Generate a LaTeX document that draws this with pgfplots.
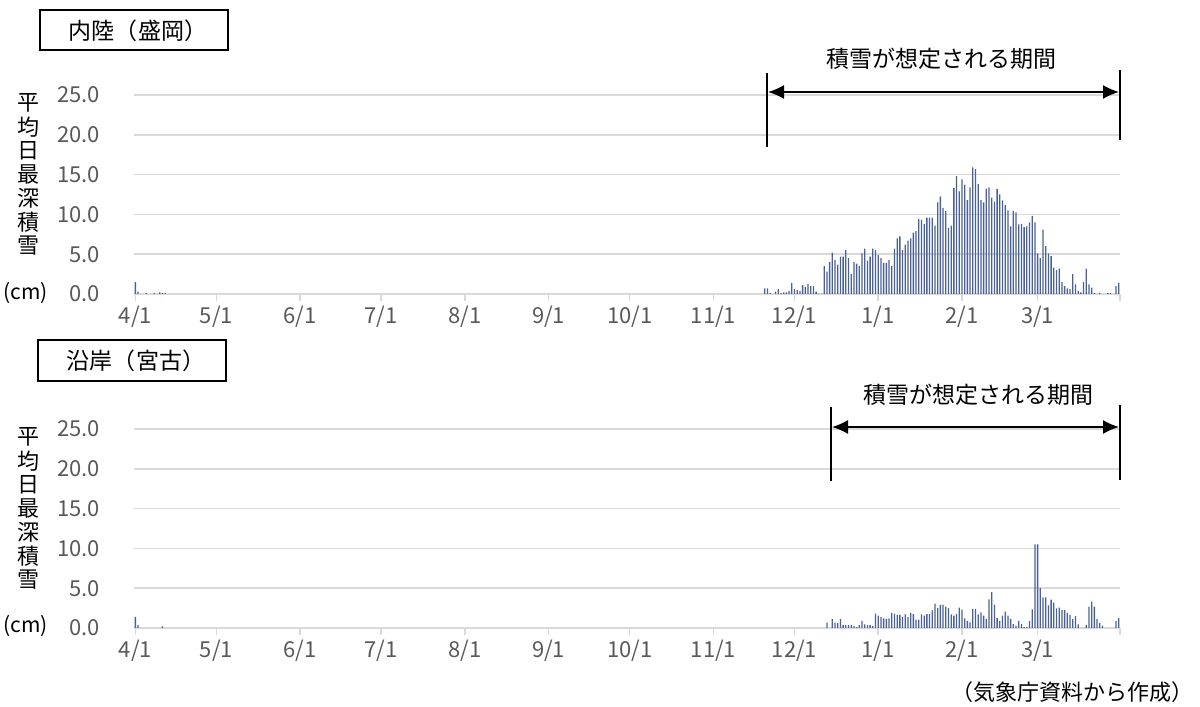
\documentclass[border=0pt]{standalone}
\usepackage{pgfplots}
\pgfplotsset{compat=1.18}
\usepackage{pgfplotstable}
\usepackage{fontspec}
\setmainfont{Noto Sans CJK JP}
\usetikzlibrary{arrows.meta}
\definecolor{barblue}{HTML}{4A6196}
\definecolor{gridgray}{HTML}{D9D9D9}
\definecolor{ticktext}{HTML}{595959}

\pgfplotstableread{
day val
0 1.5
1 0.3
4 0.1
7 0.1
9 0.2
10 0.1
11 0.1
233 0.7
234 0.7
235 0.1
237 0.3
238 0.6
239 0.1
240 0.2
241 0.2
242 0.4
243 1.4
244 0.6
245 0.5
246 0.4
247 1.1
248 0.9
249 1.25
250 1.0
251 1.0
252 0.3
253 0.05
254 0.05
255 3.5
256 2.8
257 4.0
258 5.2
259 4.3
260 3.7
261 4.7
262 4.7
263 5.5
264 4.5
265 2.5
266 4.0
267 3.8
268 3.5
269 5.1
270 5.7
271 4.2
272 4.7
273 5.7
274 5.5
275 4.9
276 4.5
277 3.9
278 3.9
279 4.25
280 3.5
281 5.7
282 7.0
283 7.25
284 5.5
285 6.2
286 6.7
287 7.0
288 7.7
289 7.9
290 9.4
291 9.3
292 8.8
293 9.6
294 9.6
295 9.6
296 8.6
297 11.5
298 12.25
299 10.8
300 10.4
301 8.3
302 8.6
303 13.3
304 14.8
305 12.9
306 14.4
307 13.75
308 11.8
309 13.4
310 15.9
311 15.7
312 13.8
313 11.8
314 11.5
315 13.25
316 13.4
317 12.1
318 11.6
319 13.2
320 12.5
321 11.75
322 11.2
323 10.5
324 8.5
325 10.4
326 10.25
327 8.75
328 8.8
329 8.4
330 8.5
331 9.0
332 9.8
333 9.0
334 5.1
335 4.5
336 8.1
337 6.0
338 5.1
339 4.75
340 3.3
341 3.0
342 3.2
343 1.5
344 1.0
345 0.7
346 0.6
347 2.5
348 1.2
349 0.4
350 0.2
351 1.5
352 3.2
353 1.2
354 0.8
355 0.1
357 0.15
360 0.1
361 0.1
363 1.0
364 1.4
}\topdata

\pgfplotstableread{
day val
0 1.4
1 0.4
10 0.2
256 0.67
258 1.1
259 0.67
260 0.6
261 1.1
262 0.4
263 0.35
264 0.35
265 0.35
266 0.25
267 0.1
268 0.35
269 0.9
270 0.45
271 0.35
272 0.35
273 0.25
274 1.8
275 1.55
276 1.35
277 1.2
278 1.15
279 1.2
280 1.9
281 1.8
282 1.65
283 1.65
284 1.35
285 1.7
286 1.35
287 1.9
288 1.75
289 1.05
290 1.05
291 1.7
292 1.55
293 1.75
294 1.75
295 2.2
296 3.05
297 2.5
298 2.9
299 2.95
300 2.7
301 2.5
302 1.7
303 1.55
304 1.75
305 2.55
306 2.3
307 1.2
308 0.9
309 0.7
310 2.4
311 2.4
312 1.7
313 1.95
314 1.55
315 1.15
316 3.6
317 4.5
318 2.95
319 1.25
320 0.9
321 1.55
322 2.05
323 1.55
324 1.15
325 0.5
326 0.3
327 0.9
328 0.5
329 0.1
330 0.1
331 0.85
332 2.35
333 10.5
334 10.5
335 5.0
336 3.85
337 3.85
338 2.85
339 3.55
340 3.2
341 2.45
342 2.55
343 2.25
344 2.25
345 1.9
346 1.65
347 1.1
348 1.5
349 0.45
352 0.4
353 2.7
354 3.3
355 2.7
356 1.1
357 0.65
358 0.3
363 0.85
364 1.25
}\botdata

\pgfplotsset{
  snowaxis/.style={
    anchor=south west,
    scale only axis, width=986bp, height=199bp,
    xmin=-0.5, xmax=364.5, ymin=0, ymax=25,
    axis lines*=left,
    y axis line style={draw=none},
    x axis line style={draw=gridgray, line width=1.5bp},
    ytick={0,5,10,15,20,25},
    yticklabels={0.0,5.0,10.0,15.0,20.0,25.0},
    ytick style={draw=none},
    xtick={0,30,61,91,122,153,183,214,244,275,306,334},
    xticklabels={4/1,5/1,6/1,7/1,8/1,9/1,10/1,11/1,12/1,1/1,2/1,3/1},
    extra x ticks={364.5},
    extra x tick labels={},
    xtick style={draw=gridgray, line width=1.5bp},
    tick align=outside,
    major tick length=7bp,
    ymajorgrids,
    grid style={draw=gridgray, line width=1.5bp},
    tick label style={font=\fontsize{22bp}{22bp}\selectfont, text=ticktext},
    yticklabel style={inner sep=0pt, anchor=east, xshift=-27bp},
    xticklabel style={inner sep=0pt, anchor=center, yshift=-16bp},
    clip=false,
  },
  snowbar/.style={ybar, bar width=1.3bp, fill=barblue, draw=none},
}

\begin{document}
\begin{tikzpicture}[x=1bp,y=1bp]
\useasboundingbox (0,0) rectangle (1200,707);

% top panel
\begin{axis}[snowaxis, at={(134bp,413bp)}]
\addplot[snowbar] table[x=day,y=val] {\topdata};
\end{axis}

% bottom panel
\begin{axis}[snowaxis, at={(134bp,79bp)}]
\addplot[snowbar] table[x=day,y=val] {\botdata};
\end{axis}

% title boxes
\draw[line width=2bp] (40,656.5) rectangle (228,697);
\node[font=\fontsize{23bp}{23bp}\selectfont] at (138,676.5) {内陸（盛岡）};
\draw[line width=2bp] (38,326) rectangle (226,367);
\node[font=\fontsize{23bp}{23bp}\selectfont] at (136,346.5) {沿岸（宮古）};

% y labels
\foreach \c [count=\i from 0] in {平,均,日,最,深,積,雪} {
  \node[font=\fontsize{22bp}{22bp}\selectfont] at (28,{707-103-23.8*\i}) {\c};
  \node[font=\fontsize{22bp}{22bp}\selectfont] at (28,{707-437-23.8*\i}) {\c};
}
\node[font=\fontsize{21bp}{21bp}\selectfont, anchor=west, inner sep=0pt] at (3,{707-293}) {(cm)};
\node[font=\fontsize{21bp}{21bp}\selectfont, anchor=west, inner sep=0pt] at (3,{707-626}) {(cm)};

% annotations top
\node[font=\fontsize{23bp}{23bp}\selectfont] at (941,648) {積雪が想定される期間};
\draw[line width=1.2bp] (767,634) -- (767,560);
\draw[line width=1.2bp] (1120,637) -- (1120,567);
\draw[line width=1.5bp, {Latex[length=16bp,width=14bp]}-{Latex[length=16bp,width=14bp]}] (768,615) -- (1119,615);

% annotations bottom
\node[font=\fontsize{23bp}{23bp}\selectfont] at (978,312) {積雪が想定される期間};
\draw[line width=1.2bp] (831,300) -- (831,226);
\draw[line width=1.2bp] (1120,302) -- (1120,227);
\draw[line width=1.5bp, {Latex[length=16bp,width=14bp]}-{Latex[length=16bp,width=14bp]}] (832,280) -- (1119,280);

% footer
\node[font=\fontsize{22bp}{22bp}\selectfont, anchor=east] at (1197,15) {（気象庁資料から作成）};
\end{tikzpicture}
\end{document}
